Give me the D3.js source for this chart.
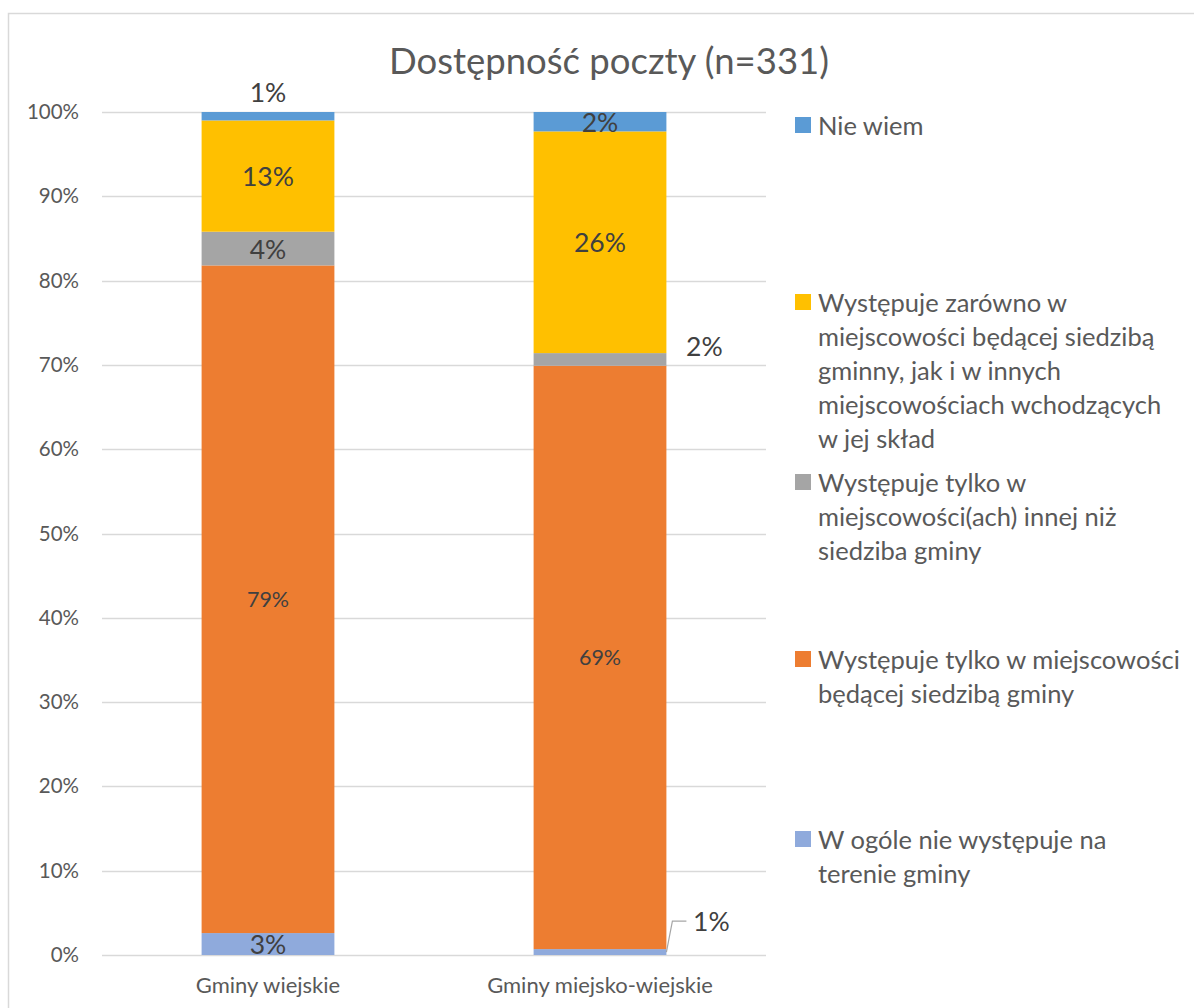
<!DOCTYPE html>
<html lang="pl">
<head>
    <meta charset="UTF-8">
    <title>Dostępność poczty (n=331)</title>
    <script src="https://d3js.org/d3.v7.min.js"></script>
    <style>
        body { margin: 0; background: #fff; }
        text { font-family: Lato, "Noto Sans", sans-serif; }
    </style>
</head>
<body>
    <script>
        // Data (percent)
        const categories = ["Gminy wiejskie", "Gminy miejsko-wiejskie"];
        const seriesNames = [
            "W ogóle nie występuje na terenie gminy",
            "Występuje tylko w miejscowości będącej siedzibą gminy",
            "Występuje tylko w miejscowości(ach) innej niż siedziba gminy",
            "Występuje zarówno w miejscowości będącej siedzibą gminny, jak i w innych miejscowościach wchodzących w jej skład",
            "Nie wiem"
        ];
        const wOgole = [2.6, 0.7];
        const tylkoSiedziba = [79.2, 69.2];
        const tylkoInna = [4.0, 1.5];
        const zarowno = [13.2, 26.3];
        const nieWiem = [1.0, 2.3];
        const yTicks = [0, 10, 20, 30, 40, 50, 60, 70, 80, 90, 100];

        const seriesValues = [wOgole, tylkoSiedziba, tylkoInna, zarowno, nieWiem];
        const colors = ["#8FAADC", "#ED7D31", "#A5A5A5", "#FFC000", "#5B9BD5"];

        // Legend lines (wrapped as in the original)
        const legendLines = [
            ["Nie wiem"],
            ["Występuje zarówno w", "miejscowości będącej siedzibą", "gminny, jak i w innych", "miejscowościach wchodzących", "w jej skład"],
            ["Występuje tylko w", "miejscowości(ach) innej niż", "siedziba gminy"],
            ["Występuje tylko w miejscowości", "będącej siedzibą gminy"],
            ["W ogóle nie występuje na", "terenie gminy"]
        ];
        const legendSeries = [4, 3, 2, 1, 0];
        const legendY = [125, 302, 482, 659, 839];

        const W = 1194, H = 1008;
        const plot = { left: 102, right: 766, top: 112, bottom: 955 };

        const svg = d3.select("body").append("svg")
            .attr("width", W)
            .attr("height", H);

        // Chart border
        svg.append("rect")
            .attr("x", 8.5).attr("y", 13.5)
            .attr("width", W).attr("height", H)
            .attr("fill", "none")
            .attr("stroke", "#d9d9d9")
            .attr("stroke-width", 1.5);

        // Title
        svg.append("text")
            .attr("x", 609).attr("y", 60)
            .attr("text-anchor", "middle")
            .attr("dominant-baseline", "central")
            .attr("fill", "#595959")
            .style("font-size", "36.5px")
            .text("Dostępność poczty (n=331)");

        // Scales
        const x = d3.scaleBand()
            .domain(categories)
            .range([plot.left, plot.right])
            .paddingInner(0.6)
            .paddingOuter(0.3);

        const y = d3.scaleLinear()
            .domain([0, 100])
            .range([plot.bottom, plot.top]);

        // Grid
        svg.append("g")
            .selectAll("line")
            .data(yTicks)
            .join("line")
            .attr("x1", plot.left).attr("x2", plot.right)
            .attr("y1", d => Math.round(y(d)) + 0.5)
            .attr("y2", d => Math.round(y(d)) + 0.5)
            .attr("stroke", "#d9d9d9")
            .attr("stroke-width", 1.5);

        // Y axis labels
        const yAxis = svg.append("g")
            .attr("transform", `translate(${plot.left},0)`)
            .call(d3.axisLeft(y).tickValues(yTicks).tickSize(0).tickPadding(23).tickFormat(d => d + "%"));
        yAxis.select(".domain").remove();
        yAxis.selectAll("text")
            .attr("fill", "#595959")
            .style("font-size", "20.5px")
            .style("font-family", "Lato, sans-serif");

        // X axis labels
        const xAxis = svg.append("g")
            .attr("transform", `translate(0,${plot.bottom})`)
            .call(d3.axisBottom(x).tickSize(0).tickPadding(22));
        xAxis.select(".domain").remove();
        xAxis.selectAll("text")
            .attr("fill", "#595959")
            .style("font-size", "22px")
            .style("font-family", "Lato, sans-serif");

        // Stack
        const rows = categories.map((c, i) => {
            const r = { category: c };
            seriesValues.forEach((s, k) => { r[k] = s[i]; });
            return r;
        });
        const stacked = d3.stack().keys(d3.range(seriesValues.length))(rows);

        const layers = svg.append("g")
            .selectAll("g")
            .data(stacked)
            .join("g")
            .attr("fill", (d, k) => colors[k]);

        layers.selectAll("rect")
            .data(d => d)
            .join("rect")
            .attr("x", d => x(d.data.category))
            .attr("width", x.bandwidth())
            .attr("y", d => y(d[1]))
            .attr("height", d => y(d[0]) - y(d[1]));

        // Data labels
        const labels = [];
        stacked.forEach((layer, k) => {
            layer.forEach((d, i) => {
                const v = seriesValues[k][i];
                let lx = x(d.data.category) + x.bandwidth() / 2;
                let ly = (y(d[0]) + y(d[1])) / 2;
                let size = k === 1 ? 21.5 : 26.5;
                let leader = false;
                if (k === 4 && i === 0) { ly = y(d[1]) - 20; }
                if (k === 2 && i === 1) { lx = x(d.data.category) + x.bandwidth() + 38; ly = ly - 13; }
                if (k === 0 && i === 1) { lx = x(d.data.category) + x.bandwidth() + 45; ly = y(d[1]) - 28; leader = true; }
                labels.push({ v, lx, ly, size, leader, x0: x(d.data.category) + x.bandwidth(), y0: (y(d[0]) + y(d[1])) / 2 });
            });
        });

        svg.append("g")
            .selectAll("path")
            .data(labels.filter(d => d.leader))
            .join("path")
            .attr("d", d => `M${d.x0},${d.y0} L${d.x0 + 6},${d.ly} L${d.x0 + 20},${d.ly}`)
            .attr("fill", "none")
            .attr("stroke", "#a6a6a6")
            .attr("stroke-width", 1.2);

        svg.append("g")
            .selectAll("text")
            .data(labels)
            .join("text")
            .attr("x", d => d.lx)
            .attr("y", d => d.ly)
            .attr("text-anchor", "middle")
            .attr("dominant-baseline", "central")
            .attr("fill", "#404040")
            .style("font-size", d => d.size + "px")
            .text(d => Math.round(d.v) + "%");

        // Legend
        const legend = svg.append("g")
            .selectAll("g")
            .data(legendSeries)
            .join("g")
            .attr("transform", (d, i) => `translate(795,${legendY[i]})`);

        legend.append("rect")
            .attr("x", 0).attr("y", -8)
            .attr("width", 16).attr("height", 16)
            .attr("fill", d => colors[d]);

        legend.append("text")
            .attr("x", 23)
            .attr("fill", "#595959")
            .style("font-size", "25.5px")
            .selectAll("tspan")
            .data((d, i) => legendLines[i])
            .join("tspan")
            .attr("x", 23)
            .attr("y", (d, j) => j * 34)
            .attr("dominant-baseline", "central")
            .text(d => d);
    </script>
</body>
</html>
